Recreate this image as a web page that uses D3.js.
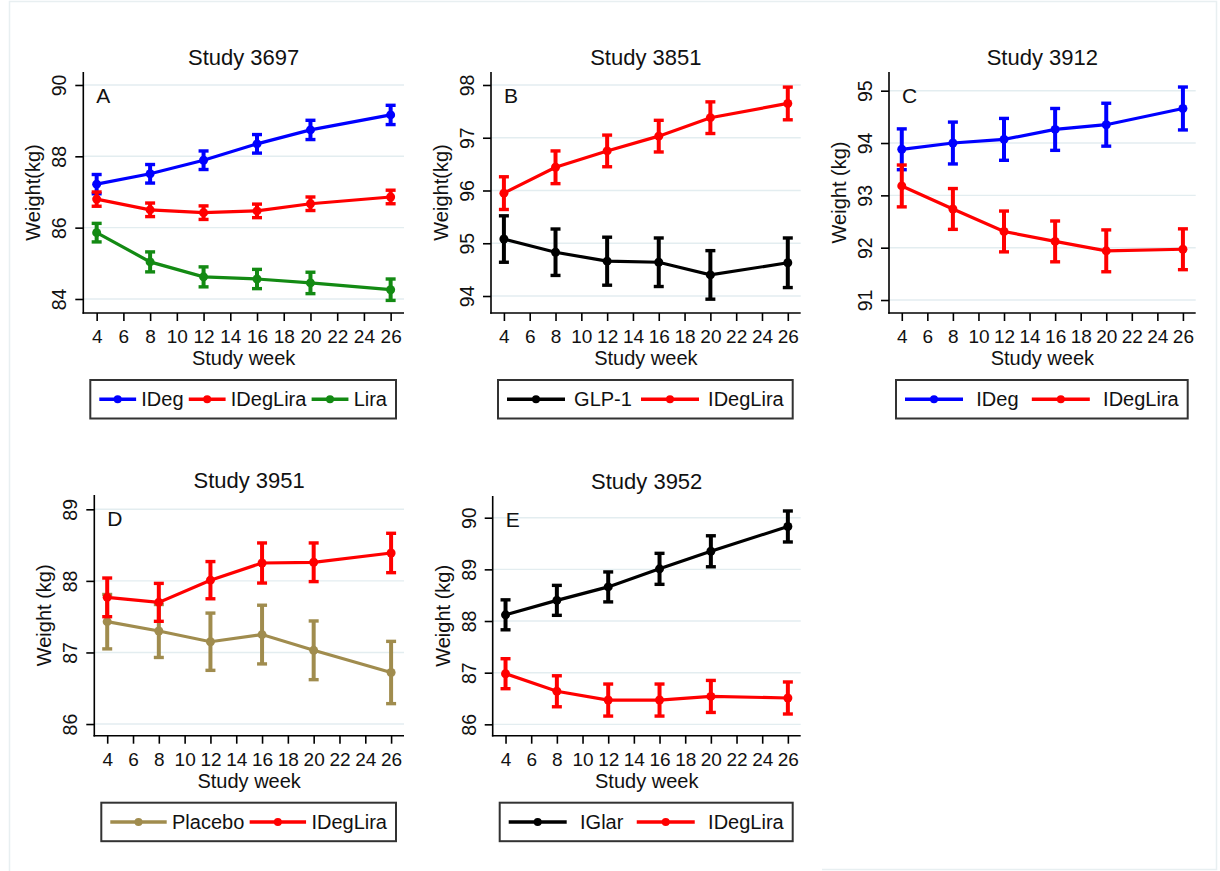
<!DOCTYPE html>
<html>
<head>
<meta charset="utf-8">
<script src="https://cdn.jsdelivr.net/npm/d3@7"></script>
<style>
  body { margin: 0; background: #fff; }
  svg { display: block; font-family: "Liberation Sans", Arial, sans-serif; }
</style>
</head>
<body>
<div id="chart"></div>
<script>
// study weeks where weight was measured, and x tick labels
const weeks = [4, 8, 12, 16, 20, 26];
const xTicks = [4, 6, 8, 10, 12, 14, 16, 18, 20, 22, 24, 26];

// Study 3697 (A)
const ideg3697 = [87.22, 87.51, 87.89, 88.35, 88.74, 89.16];
const ideg3697Err = [0.27, 0.26, 0.26, 0.26, 0.27, 0.27];
const idegLira3697 = [86.80, 86.50, 86.42, 86.47, 86.67, 86.86];
const idegLira3697Err = [0.20, 0.19, 0.19, 0.19, 0.19, 0.19];
const lira3697 = [85.86, 85.04, 84.62, 84.56, 84.45, 84.26];
const lira3697Err = [0.26, 0.28, 0.28, 0.27, 0.30, 0.30];

// Study 3851 (B)
const glp3851 = [95.08, 94.83, 94.66, 94.64, 94.40, 94.63];
const glp3851Err = [0.44, 0.44, 0.455, 0.46, 0.46, 0.47];
const idegLira3851 = [95.95, 96.44, 96.75, 97.03, 97.38, 97.65];
const idegLira3851Err = [0.31, 0.31, 0.30, 0.30, 0.30, 0.31];

// Study 3912 (C)
const ideg3912 = [93.88, 94.00, 94.07, 94.26, 94.35, 94.66];
const ideg3912Err = [0.39, 0.40, 0.40, 0.40, 0.41, 0.41];
const idegLira3912 = [93.18, 92.74, 92.31, 92.12, 91.94, 91.97];
const idegLira3912Err = [0.40, 0.39, 0.39, 0.39, 0.40, 0.39];

// Study 3951 (D)
const placebo3951 = [87.43, 87.30, 87.15, 87.25, 87.03, 86.72];
const placebo3951Err = [0.38, 0.37, 0.40, 0.41, 0.41, 0.435];
const idegLira3951 = [87.77, 87.70, 88.01, 88.25, 88.26, 88.39];
const idegLira3951Err = [0.27, 0.265, 0.26, 0.28, 0.27, 0.275];

// Study 3952 (E)
const iglar3952 = [88.12, 88.40, 88.66, 89.01, 89.35, 89.83];
const iglar3952Err = [0.29, 0.29, 0.29, 0.30, 0.30, 0.30];
const idegLira3952 = [86.98, 86.64, 86.47, 86.47, 86.54, 86.51];
const idegLira3952Err = [0.29, 0.30, 0.31, 0.31, 0.31, 0.31];

const colors = {
  'IDeg': '#0000ff',
  'IDegLira': '#ff0000',
  'Lira': '#138a13',
  'GLP-1': '#000000',
  'Placebo': '#a08c4e',
  'IGlar': '#000000'
};

const panels = [
  { title: 'Study 3697', letter: 'A', yLabel: 'Weight(kg)',
    yDomain: [83.607, 90.364], yTicks: [84, 86, 88, 90],
    series: [['IDeg', ideg3697, ideg3697Err], ['IDegLira', idegLira3697, idegLira3697Err], ['Lira', lira3697, lira3697Err]],
    box: { left: 83.3, top: 72, bottom: 313, right: 404 } },
  { title: 'Study 3851', letter: 'B', yLabel: 'Weight(kg)',
    yDomain: [93.678, 98.246], yTicks: [94, 95, 96, 97, 98],
    series: [['GLP-1', glp3851, glp3851Err], ['IDegLira', idegLira3851, idegLira3851Err]],
    box: { left: 491, top: 72, bottom: 313, right: 800.7 } },
  { title: 'Study 3912', letter: 'C', yLabel: 'Weight (kg)',
    yDomain: [90.752, 95.357], yTicks: [91, 92, 93, 94, 95],
    series: [['IDeg', ideg3912, ideg3912Err], ['IDegLira', idegLira3912, idegLira3912Err]],
    box: { left: 889, top: 72, bottom: 313, right: 1195.7 } },
  { title: 'Study 3951', letter: 'D', yLabel: 'Weight (kg)',
    yDomain: [85.837, 89.2], yTicks: [86, 87, 88, 89],
    series: [['Placebo', placebo3951, placebo3951Err], ['IDegLira', idegLira3951, idegLira3951Err]],
    box: { left: 94.3, top: 495, bottom: 735.7, right: 404 } },
  { title: 'Study 3952', letter: 'E', yLabel: 'Weight (kg)',
    yDomain: [85.78, 90.42], yTicks: [86, 87, 88, 89, 90],
    series: [['IGlar', iglar3952, iglar3952Err], ['IDegLira', idegLira3952, idegLira3952Err]],
    box: { left: 492.7, top: 496, bottom: 735.7, right: 800.7 } }
];

const svg = d3.select('#chart').append('svg')
  .attr('width', 1220)
  .attr('height', 871);

svg.append('rect').attr('width', 1220).attr('height', 871).attr('fill', '#fff');

// faint outer frame of the original figure
svg.append('path')
  .attr('d', 'M822,869.5H1216.5V1.5H9.5V871')
  .attr('fill', 'none')
  .attr('stroke', '#e8eff1')
  .attr('stroke-width', 1.5);

panels.forEach(p => drawPanel(p));

function drawPanel(p) {
  const b = p.box;
  const g = svg.append('g');

  const x = d3.scaleLinear().domain([3, 27]).range([b.left, b.right]);
  const y = d3.scaleLinear().domain(p.yDomain).range([b.bottom, b.top]);

  // gridlines
  g.selectAll('.grid')
    .data(p.yTicks)
    .enter().append('line')
      .attr('x1', b.left).attr('x2', b.right)
      .attr('y1', d => y(d)).attr('y2', d => y(d))
      .attr('stroke', '#e3edf0')
      .attr('stroke-width', 1.4);

  // y axis
  const yAxis = g.append('g')
    .attr('transform', 'translate(' + b.left + ',0)')
    .call(d3.axisLeft(y).tickValues(p.yTicks).tickSize(8).tickSizeOuter(0).tickFormat(d3.format('d')));
  yAxis.select('.domain').attr('stroke', '#000').attr('stroke-width', 1.6);
  yAxis.selectAll('.tick line').attr('stroke', '#000').attr('stroke-width', 1.6);
  yAxis.selectAll('.tick text')
    .attr('x', 0).attr('y', 0).attr('dy', null)
    .attr('transform', 'translate(-17,0) rotate(-90)')
    .attr('text-anchor', 'middle')
    .attr('font-size', 19.5)
    .attr('fill', '#111');

  // x axis
  const xAxis = g.append('g')
    .attr('transform', 'translate(0,' + b.bottom + ')')
    .call(d3.axisBottom(x).tickValues(xTicks).tickSize(8).tickSizeOuter(0));
  xAxis.select('.domain').attr('stroke', '#000').attr('stroke-width', 1.6);
  xAxis.selectAll('.tick line').attr('stroke', '#000').attr('stroke-width', 1.6);
  xAxis.selectAll('.tick text')
    .attr('y', 30).attr('dy', null)
    .attr('font-size', 19)
    .attr('fill', '#111');

  // extend the axis domain lines to meet at the corner
  yAxis.select('.domain').attr('d', 'M0,' + (b.bottom + 0.8) + 'V' + b.top);
  xAxis.select('.domain').attr('d', 'M' + (b.left - 0.8) + ',0H' + b.right);

  // titles
  const cx = (b.left + b.right) / 2;
  g.append('text')
    .attr('x', cx).attr('y', b.top - 7)
    .attr('text-anchor', 'middle')
    .attr('font-size', 22)
    .attr('fill', '#111')
    .text(p.title);

  g.append('text')
    .attr('x', cx).attr('y', b.bottom + 52)
    .attr('text-anchor', 'middle')
    .attr('font-size', 20)
    .attr('fill', '#111')
    .text('Study week');

  g.append('text')
    .attr('transform', 'translate(' + (b.left - 43) + ',' + ((b.top + b.bottom) / 2) + ') rotate(-90)')
    .attr('text-anchor', 'middle')
    .attr('font-size', 20)
    .attr('fill', '#111')
    .text(p.yLabel);

  g.append('text')
    .attr('x', b.left + 13).attr('y', b.top + 31)
    .attr('font-size', 21)
    .attr('fill', '#111')
    .text(p.letter);

  // series: error bars, line, markers
  const line = d3.line().x(d => x(d.w)).y(d => y(d.m));
  p.series.forEach(([name, means, errs]) => {
    const col = colors[name];
    const pts = weeks.map((w, i) => ({ w: w, m: means[i], e: errs[i] }));
    const s = g.append('g');

    s.selectAll('.bar')
      .data(pts)
      .enter().append('line')
        .attr('x1', d => x(d.w)).attr('x2', d => x(d.w))
        .attr('y1', d => y(d.m - d.e)).attr('y2', d => y(d.m + d.e))
        .attr('stroke', col).attr('stroke-width', 4);

    [-1, 1].forEach(sign => {
      s.selectAll('.cap' + sign)
        .data(pts)
        .enter().append('line')
          .attr('x1', d => x(d.w) - 5).attr('x2', d => x(d.w) + 5)
          .attr('y1', d => y(d.m + sign * d.e)).attr('y2', d => y(d.m + sign * d.e))
          .attr('stroke', col).attr('stroke-width', 3.4);
    });

    s.append('path')
      .datum(pts)
      .attr('d', line)
      .attr('fill', 'none')
      .attr('stroke', col)
      .attr('stroke-width', 3.2);

    s.selectAll('.dot')
      .data(pts)
      .enter().append('circle')
        .attr('cx', d => x(d.w)).attr('cy', d => y(d.m))
        .attr('r', 4.5)
        .attr('fill', col);
  });

  // legend
  const lx0 = b.left + 7, lx1 = b.right - 8;
  const ly0 = b.bottom + 67, ly1 = b.bottom + 105.5;
  const lg = g.append('g');
  lg.append('rect')
    .attr('x', lx0).attr('y', ly0)
    .attr('width', lx1 - lx0).attr('height', ly1 - ly0)
    .attr('fill', '#fff')
    .attr('stroke', '#333')
    .attr('stroke-width', 2);

  const names = p.series.map(s => s[0]);
  const texts = names.map(n => lg.append('text')
    .attr('font-size', 20)
    .attr('fill', '#111')
    .attr('y', (ly0 + ly1) / 2 + 7)
    .text(n));
  const widths = texts.map(t => t.node().getComputedTextLength());
  const n = names.length;
  const pad = 9;
  const content = (lx1 - lx0) - 2 * pad;
  const sumT = d3.sum(widths);
  const k = Math.min(58, (content - sumT - (n - 1) * 4 - n * 6) / n);
  const unit = (content - sumT - n * k) / (2 * n - 1);
  let cur = lx0 + pad;
  const ky = (ly0 + ly1) / 2;
  names.forEach((name, i) => {
    const col = colors[name];
    lg.append('line')
      .attr('x1', cur).attr('x2', cur + k)
      .attr('y1', ky).attr('y2', ky)
      .attr('stroke', col).attr('stroke-width', 3.5);
    lg.append('circle')
      .attr('cx', cur + k / 2).attr('cy', ky)
      .attr('r', 4)
      .attr('fill', col);
    cur += k + unit;
    texts[i].attr('x', cur);
    cur += widths[i] + unit;
  });
}
</script>
</body>
</html>
